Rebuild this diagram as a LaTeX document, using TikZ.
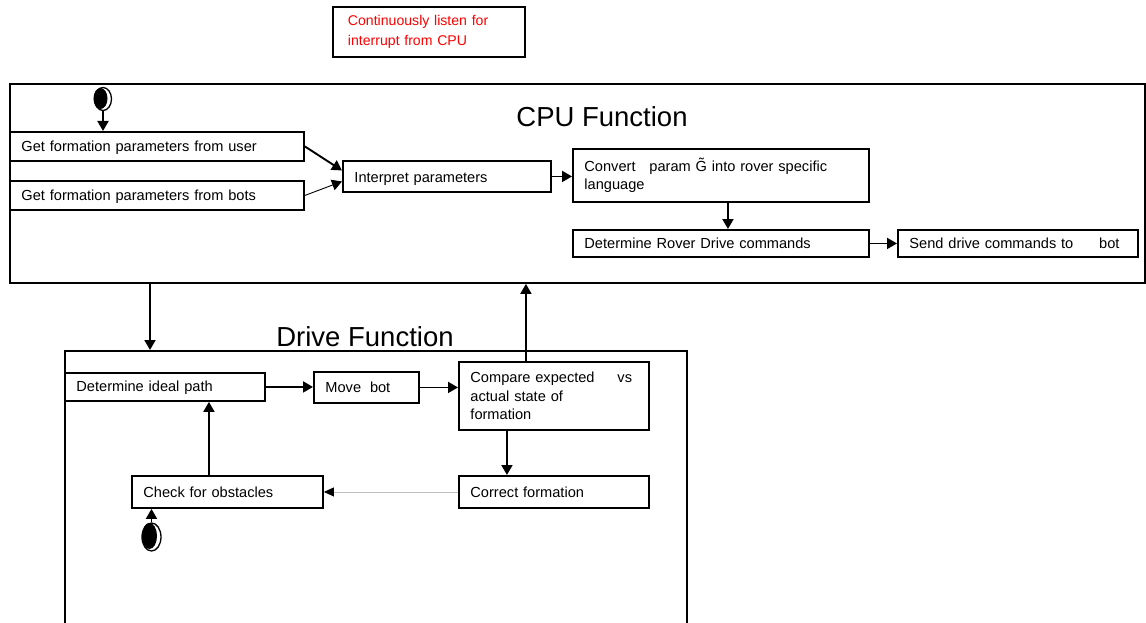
\documentclass[tikz,border=0pt]{standalone}
\usepackage{fontspec}
\setmainfont{Liberation Sans}
\usetikzlibrary{arrows.meta,shapes.geometric}

\tikzset{
  act/.style={draw, line width=1.9pt, rectangle, anchor=north west, inner xsep=11.5pt, inner ysep=0pt,
    align=left, font=\fontsize{14.6}{18.5}\selectfont},
  frame/.style={draw, line width=1.9pt, rectangle, anchor=north west, inner sep=0pt},
  flow/.style={line width=1.9pt, -{Triangle[length=10pt,width=11pt]}},
  thinflow/.style={line width=0.9pt, -{Triangle[length=10pt,width=11pt]}},
  grayflow/.style={draw=gray!50, line width=0.9pt, -{Triangle[length=10pt,width=9pt,color=black]}},
  startdot/.style={ellipse, fill=black, inner sep=0pt},
  startring/.style={ellipse, draw, line width=1.3pt, inner sep=0pt},
  title/.style={font=\fontsize{27.5}{30}\selectfont}
}

\begin{document}
\begin{tikzpicture}[x=1pt,y=-1pt]
    \useasboundingbox (0,0) rectangle (1146,623);

    % red note
    \node[act, text=red, text width=162pt, font=\fontsize{14.1}{20}\selectfont, inner xsep=15pt,
        minimum height=50pt] (listen) at (332,6) {Continuously listen for\\interrupt from CPU};

    % frames
    \node[frame, minimum width=1135pt, minimum height=199pt] (cpu) at (9,83) {};
    \node[frame, minimum width=622pt, minimum height=300pt] (drive) at (64,350) {};
    \node[title] (cpuname) at (602,117) {CPU Function};
    \node[title] (drivename) at (365,337) {Drive Function};

    % CPU part
    \node[act, text width=271pt, minimum height=29pt] (user) at (9,131) {\rule{0pt}{14pt}Get formation parameters from user};
    \node[act, text width=271pt, minimum height=29pt] (bots) at (9,180) {\rule{0pt}{13pt}Get formation parameters from bots};
    \node[act, text width=185pt, minimum height=31pt] (interp) at (342,160) {\rule{0pt}{16pt}Interpret parameters};
    \node[act, text width=273pt, minimum height=53pt] (conv) at (572,148)
        {Convert\hspace{9pt} param G̃ into rover specific\\language};
    \node[act, text width=273pt, minimum height=27pt] (rdc) at (572,229) {Determine Rover Drive commands};
    \node[act, text width=217pt, minimum height=27pt] (send) at (897,229) {Send drive commands to\hspace{21pt} bot};

    % drive part
    \node[act, text width=177pt, minimum height=28pt] (dip) at (64,372) {\rule{0pt}{13pt}Determine ideal path};
    \node[act, text width=82pt, minimum height=31pt] (move) at (313,371) {Move\hspace{4pt} bot};
    \node[act, text width=167pt, minimum height=68pt] (cmp) at (458,361)
        {Compare expected\hspace{18pt} vs\\actual state of\\formation};
    \node[act, text width=167pt, minimum height=32pt] (fix) at (458,475) {Correct formation};
    \node[act, text width=168pt, minimum height=32pt] (chk) at (131,475) {Check for obstacles};

    % start markers
    \node[startring, minimum width=17pt, minimum height=23pt] (ring1) at (103,99) {};
    \node[startdot, minimum width=14pt, minimum height=21pt] (dot1) at (100.5,98.5) {};
    \node[startring, minimum width=19pt, minimum height=28pt] (ring2) at (151.5,537) {};
    \node[startdot, minimum width=15pt, minimum height=26pt] (dot2) at (149.5,536) {};

    % connectors
    \draw[flow] (ring1.south) -- (ring1.south |- user.north);
    \draw[flow] (user.east) -- ([yshift=6pt]interp.west);
    \draw[thinflow] (bots.east) -- ([yshift=-5pt]interp.west);
    \draw[flow] (interp.east) -- (interp.east -| conv.west);
    \draw[flow] ([xshift=7pt]conv.south) -- ([xshift=7pt]rdc.north);
    \draw[flow] (rdc.east) -- (send.west);

    \draw[flow] ([xshift=141pt]cpu.south west) -- ([xshift=86pt]drive.north west);
    \coordinate (back) at ([xshift=-28pt]cmp.north);
    \draw[flow] (back) -- (back |- cpu.south);

    \draw[flow] (dip.east) -- (dip.east -| move.west);
    \draw[flow] (move.east) -- (move.east -| cmp.west);
    \coordinate (down) at ([xshift=-47pt]cmp.south);
    \draw[flow] (down) -- (down |- fix.north);
    \draw[grayflow] (fix.west) -- (chk.east);
    \coordinate (upchk) at ([xshift=-18.5pt]chk.north);
    \draw[flow] (upchk) -- (upchk |- dip.south);
    \draw[flow] (ring2.north) -- (ring2.north |- chk.south);
\end{tikzpicture}
\end{document}
